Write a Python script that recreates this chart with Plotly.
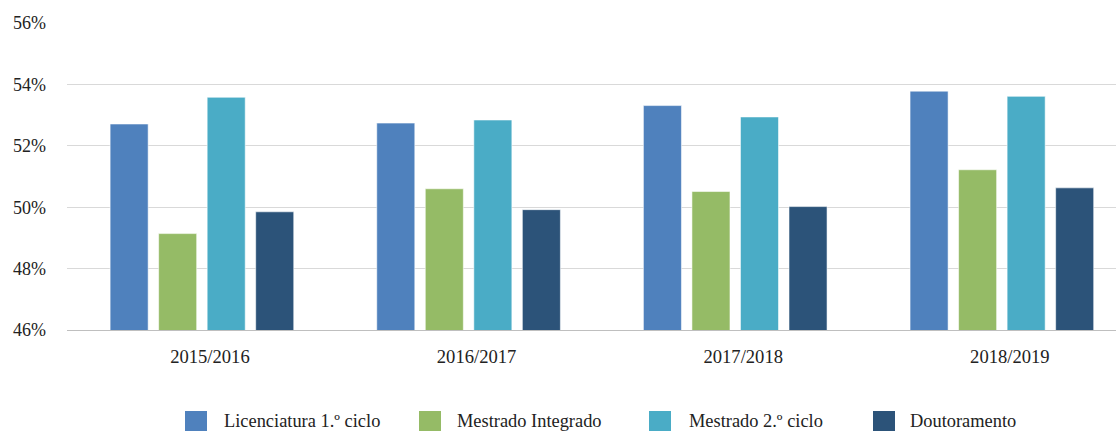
import plotly.graph_objects as go

years = ["2015/2016", "2016/2017", "2017/2018", "2018/2019"]
series_names = ["Licenciatura 1.º ciclo", "Mestrado Integrado", "Mestrado 2.º ciclo", "Doutoramento"]
licenciatura = [52.71, 52.74, 53.31, 53.78]
mestrado_integrado = [49.14, 50.60, 50.51, 51.22]
mestrado_2ciclo = [53.58, 52.84, 52.94, 53.61]
doutoramento = [49.85, 49.92, 50.02, 50.63]
colors = ["#4F81BD", "#95BB66", "#4AACC6", "#2C5379"]
y_ticks = [46, 48, 50, 52, 54, 56]

W, H = 1116, 432
ML, MR, MT, MB = 67, 0, 23, 102
FONT = "Liberation Serif, Times New Roman, serif"
TXT = "#222222"

fig = go.Figure()
for name, vals, col in zip(series_names,
                           [licenciatura, mestrado_integrado, mestrado_2ciclo, doutoramento],
                           colors):
    fig.add_trace(go.Bar(x=years, y=vals, name=name, marker_color=col,
                         marker_line=dict(width=1, color="rgba(255,255,255,0.55)"),
                         showlegend=False, hoverinfo="skip"))

fig.update_layout(
    width=W, height=H,
    margin=dict(l=ML, r=MR, t=MT, b=MB, pad=0),
    paper_bgcolor="white", plot_bgcolor="white",
    barmode="group", bargap=0.272, bargroupgap=0.216,
    font=dict(family=FONT, size=18, color=TXT),
    xaxis=dict(type="category", range=[-0.506, 3.428], showgrid=False,
               showline=True, linecolor="#BFBFBF", linewidth=1,
               ticks="", showticklabels=False),
    # overlay axis used only to place the category labels (slightly offset, as in the original)
    xaxis2=dict(type="category", categoryarray=years, categoryorder="array",
                range=[-0.536, 3.398], overlaying="x", side="bottom",
                showgrid=False, showline=False, ticks="", zeroline=False,
                tickvals=years, ticktext=years, ticklabelstandoff=13,
                tickfont=dict(family=FONT, size=18.6, color=TXT)),
    yaxis=dict(range=[46, 56], tickvals=y_ticks,
               ticktext=[f"{v}%" for v in y_ticks],
               showgrid=True, gridcolor="#D9D9D9", gridwidth=1,
               zeroline=False, showline=False, ticks="",
               ticklabelstandoff=20,
               tickfont=dict(family=FONT, size=18, color=TXT)),
)
# invisible trace to activate the label axis
fig.add_trace(go.Scatter(x=years, y=[None] * len(years), xaxis="x2", yaxis="y",
                         mode="markers", showlegend=False, hoverinfo="skip"))

# Manual legend (swatch + label), positioned in paper coordinates
plot_w = W - ML - MR
plot_h = H - MT - MB
def px_to_paper_x(px):
    return (px - ML) / plot_w
def px_to_paper_y(py):
    return (H - MB - py) / plot_h

sw_left = [185, 419, 649, 873]
txt_left = [222, 455, 687, 908]
sw_w, sw_top, sw_bot = 22, 411, 431
for name, col, sx, tx in zip(series_names, colors, sw_left, txt_left):
    fig.add_shape(type="rect", xref="paper", yref="paper",
                  x0=px_to_paper_x(sx), x1=px_to_paper_x(sx + sw_w),
                  y0=px_to_paper_y(sw_bot), y1=px_to_paper_y(sw_top),
                  fillcolor=col, line=dict(width=0))
    fig.add_annotation(xref="paper", yref="paper",
                       x=px_to_paper_x(tx), y=px_to_paper_y(421),
                       text=name, showarrow=False, xanchor="left", yanchor="middle",
                       font=dict(family=FONT, size=18.4, color=TXT))

fig.write_html("out.html", config={"displayModeBar": False},
               post_script="document.body.style.margin='0';document.body.style.overflow='hidden';")
